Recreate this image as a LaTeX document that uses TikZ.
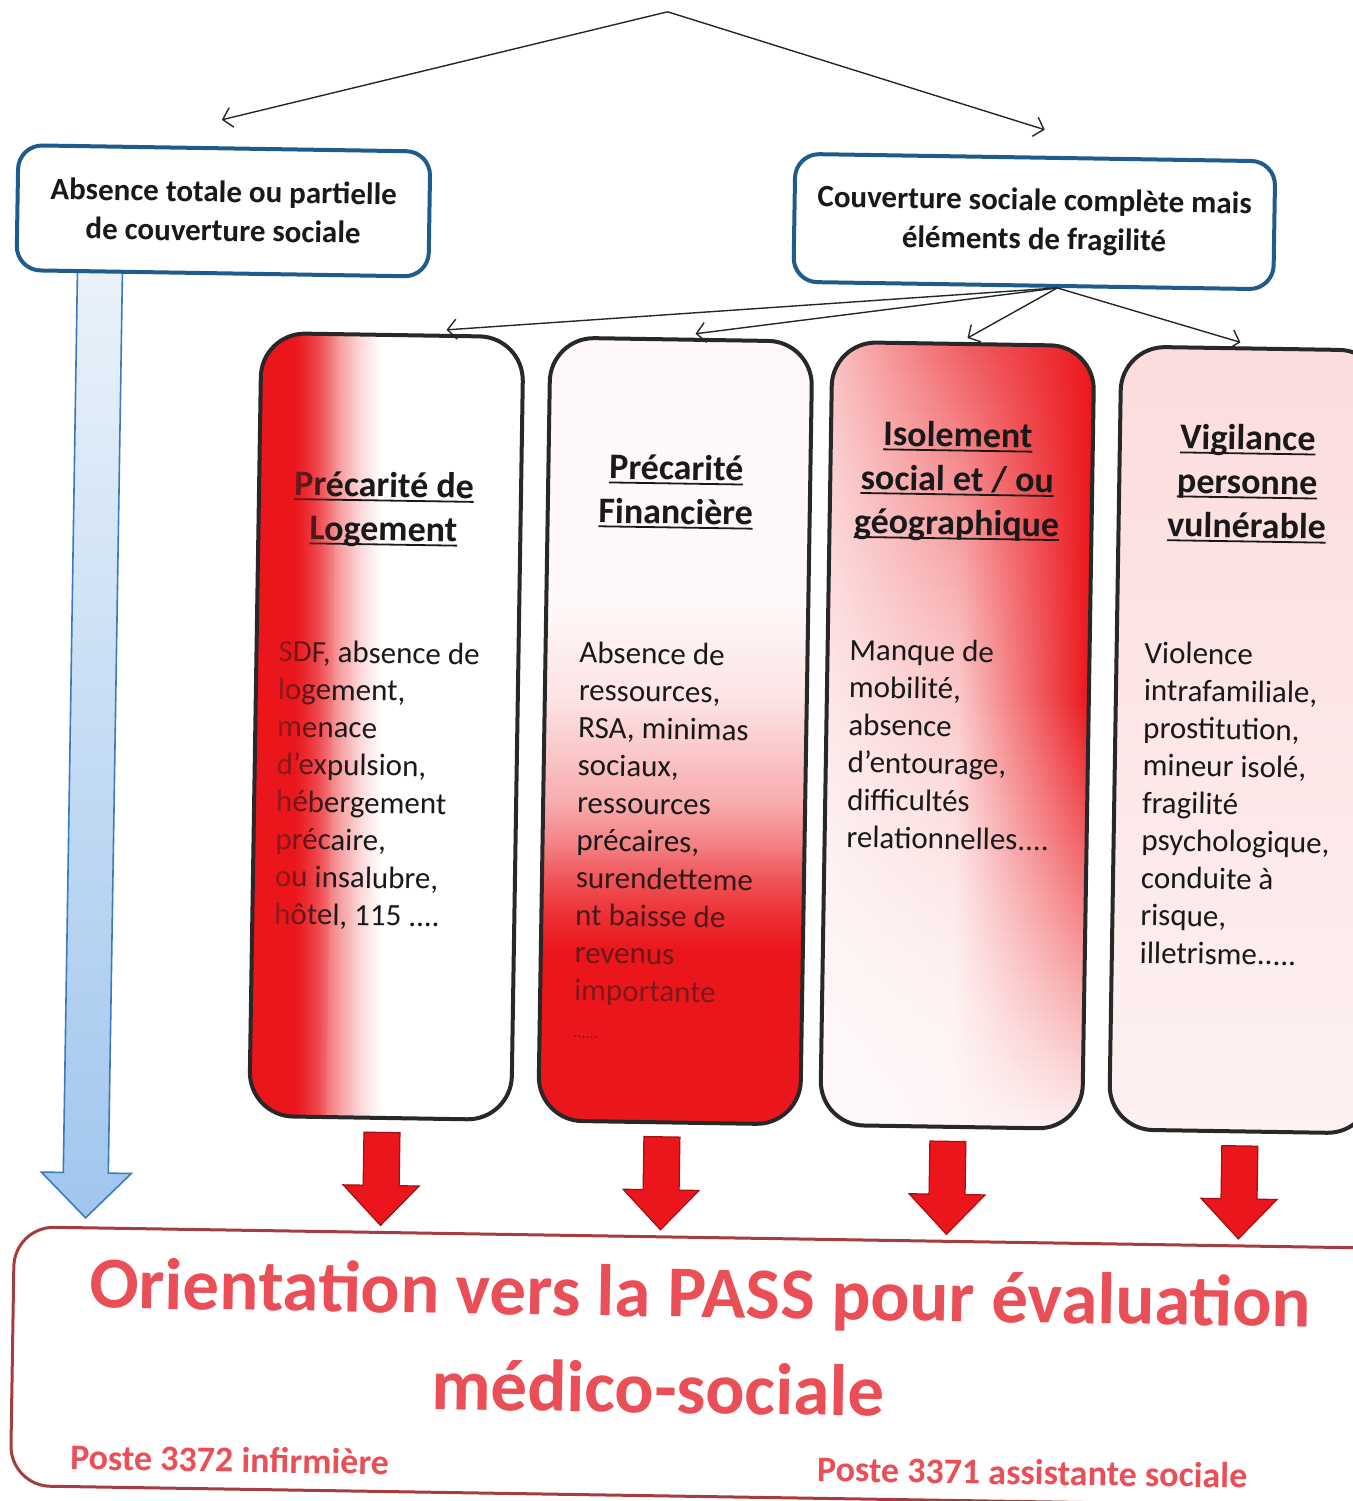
\documentclass[tikz,border=0pt]{standalone}
\usepackage{fontspec}
\setmainfont{Carlito}
\usetikzlibrary{arrows.meta,fadings,calc}
\definecolor{myred}{RGB}{234,22,28}
\definecolor{boxblue}{RGB}{31,92,140}
\definecolor{colborder}{RGB}{40,40,40}
\definecolor{pinkred}{RGB}{234,78,86}
\definecolor{botborder}{RGB}{165,60,62}
\definecolor{bluelight}{RGB}{234,242,250}
\definecolor{bluemid}{RGB}{160,198,238}
\definecolor{blueedge}{RGB}{60,122,185}
\definecolor{textblack}{RGB}{25,25,25}
\pgfdeclarehorizontalshading{colAsh}{100bp}{color(0bp)=(myred); color(33bp)=(myred); color(37bp)=(myred!75); color(41bp)=(myred!45); color(45bp)=(myred!18); color(49bp)=(white); color(100bp)=(white)}
\pgfdeclareverticalshading{colBsh}{100bp}{color(0bp)=(myred); color(36bp)=(myred); color(40.5bp)=(myred!70); color(45.6bp)=(myred!35); color(52bp)=(myred!12); color(58bp)=(myred!3); color(75bp)=(myred!3); color(100bp)=(myred!3)}
\tikzfading[name=fadeLR, left color=transparent!0, right color=transparent!100]
\tikzfading[name=fadeTB, top color=transparent!100, bottom color=transparent!0]
\newcommand\mylines[1]{\begin{tabular}[t]{@{}l@{}}#1\end{tabular}}
\newcommand\myctr[1]{\begin{tabular}[t]{@{}c@{}}#1\end{tabular}}
\newcommand\myul[1]{\setbox0\hbox{#1}\rlap{\rule[-2.2pt]{\wd0}{0.9pt}}\box0}
\begin{document}
\begin{tikzpicture}[x=0.5pt,y=-0.5pt,
  conn/.style={draw=black!85, line width=0.7pt, -{Straight Barb[length=4.5pt,width=10pt]}},
  bluebox/.style={draw=boxblue, line width=2pt, rounded corners=12pt, fill=white, align=center, font=\fontsize{15.5}{19.5}\selectfont\bfseries, text=textblack},
  colbox/.style={draw=colborder, line width=2pt, rounded corners=22pt, minimum width=131pt, minimum height=391.5pt, inner sep=0pt},
  ttl/.style={anchor=base, inner sep=0pt, font=\fontsize{18}{22}\selectfont\bfseries, text=textblack},
  body/.style={anchor=base west, inner sep=0pt, font=\fontsize{15.5}{18.75}\selectfont, text=textblack},
  redarr/.style={fill=myred, draw=myred!70!black, line width=0.6pt},
  big/.style={font=\fontsize{36.5}{40}\selectfont\bfseries, text=pinkred, inner sep=0pt, anchor=base},
  poste/.style={font=\fontsize{18}{22}\selectfont\bfseries, text=pinkred, inner sep=0pt, anchor=base west}
]
\useasboundingbox (0,0) rectangle (1353,1501);
\begin{scope}[rotate around={-0.9:(676,750)}, transform shape]
% top connectors
\coordinate (apex) at (656,12);
\coordinate (endL) at (212,127);
\coordinate (endR) at (1035,124);
\draw[conn] (apex) -- (endL);
\draw[conn] (apex) -- (endR);
% blue arrow
\draw[draw=blueedge, line width=0.8pt, top color=bluelight, bottom color=bluemid]
  (70,276) -- (115,276) -- (115,1182) -- (138,1182) -- (93,1227) -- (48,1182) -- (70,1182) -- cycle;
% top boxes
\node[bluebox, minimum width=206pt, minimum height=62.5pt] (b1) at (215,218) {Absence totale ou partielle\\de couverture sociale};
\node[bluebox, minimum width=240pt, minimum height=64pt] (b2) at (1026,216) {Couverture sociale complète mais\\éléments de fragilité};
% column 1
\shade[shading=colAsh, rounded corners=22pt] (255,339.5) rectangle (517,1122.5);
\node[ttl] (t1) at (380,501.6) {\myctr{\myul{Précarité de}\\\myul{Logement}}};
\node[body] (x1) at (276.6,668) {\mylines{SDF, absence de\\logement,\\menace\\d’expulsion,\\hébergement\\précaire,\\ou insalubre,\\hôtel, 115 ....}};
\begin{scope}
\clip[rounded corners=22pt] (255,339.5) rectangle (517,1122.5);
\fill[myred, fill opacity=0.6] (255,339.5) rectangle (286,1122.5);
\fill[myred, fill opacity=0.6, path fading=fadeLR] (286,339.5) rectangle (332,1122.5);
\end{scope}
\node[colbox] (c1) at (386,731) {};
% column 2
\shade[shading=colBsh, rounded corners=22pt] (544,339.5) rectangle (806,1122.5);
\node[ttl] (t2) at (672,480) {\myctr{\myul{Précarité}\\\myul{Financière}}};
\node[body] (x2) at (577.6,664.5) {\mylines{Absence de\\ressources,\\RSA, minimas\\sociaux,\\ressources\\précaires,\\surendetteme\\nt baisse de\\revenus\\importante\\{\fontsize{8}{9}\selectfont ......}}};
\begin{scope}
\clip[rounded corners=22pt] (544,339.5) rectangle (806,1122.5);
\fill[myred, fill opacity=0.5, path fading=fadeTB] (544,850) rectangle (806,980);
\fill[myred, fill opacity=0.5] (544,980) rectangle (806,1122.5);
\end{scope}
\node[colbox] (c2) at (675,731) {};
% column 3
\begin{scope}
\clip[rounded corners=22pt] (826,339.5) rectangle (1088,1122.5);
\foreach \i in {0,...,79}{
  \pgfmathsetmacro\ff{\i/79}
  \pgfmathsetmacro\LL{3+24*(1-\ff)^2}
  \pgfmathsetmacro\MM{4+64*(1-\ff)^2}
  \pgfmathsetmacro\RR{\ff<0.45 ? 100 : 100-(\ff-0.45)*167}
  \shade[left color=myred!\LL!white, right color=myred!\RR!white, middle color=myred!\MM!white]
    (826,{339.5+\i*9.7875}) rectangle (1088,{339.5+(\i+1)*9.7875+1});
}
\end{scope}
\node[ttl] (t3) at (953,442.6) {\myctr{\myul{Isolement}\\\myul{social et / ou}\\\myul{géographique}}};
\node[body] (x3) at (847.6,657.3) {\mylines{Manque de\\mobilité,\\absence\\d’entourage,\\difficultés\\relationnelles....}};
\node[colbox] (c3) at (957,731) {};
% column 4
\shade[top color=myred!15, bottom color=myred!6, rounded corners=22pt] (1115,339.5) rectangle (1377,1122.5);
\node[ttl] (t4) at (1243,441) {\myctr{\myul{Vigilance}\\\myul{personne}\\\myul{vulnérable}}};
\node[body] (x4) at (1142.6,655.7) {\mylines{Violence\\intrafamiliale,\\prostitution,\\mineur isolé,\\fragilité\\psychologique,\\conduite à\\risque,\\illetrisme.....}};
\node[colbox] (c4) at (1246,731) {};
% connectors from box 2
\draw[conn] ([xshift=12pt]b2.south) -- ([xshift=27pt,yshift=2pt]c1.north);
\draw[conn] ([xshift=12pt]b2.south) -- ([xshift=7pt,yshift=2pt]c2.north);
\draw[conn] ([xshift=12pt]b2.south) -- ([xshift=2pt,yshift=2pt]c3.north);
\draw[conn] ([xshift=12pt]b2.south) -- ([xshift=-6pt,yshift=2pt]c4.north);
% bottom box
\node[draw=botborder, line width=1.5pt, rounded corners=20pt, minimum width=689pt, minimum height=129.5pt] (bot) at (711,1366.5) {};
\node[big] (m1) at (709,1317) {Orientation vers la PASS pour évaluation};
\node[big] (m2) at (668,1413) {médico-sociale};
\node[poste] (p1) at (81,1479) {Poste 3372 infirmière};
\node[poste] (p2) at (828,1479) {Poste 3371 assistante sociale};
% red block arrows
\foreach \xx/\nm in {388/ra1,668/ra2,954/ra3,1246/ra4}{
  \draw[redarr] ({\xx-18},1137) -- ({\xx+18},1137) -- ({\xx+18},1190) -- ({\xx+38},1190) -- (\xx,1230) -- ({\xx-38},1190) -- ({\xx-18},1190) -- cycle;
}
\end{scope}
\end{tikzpicture}
\end{document}
